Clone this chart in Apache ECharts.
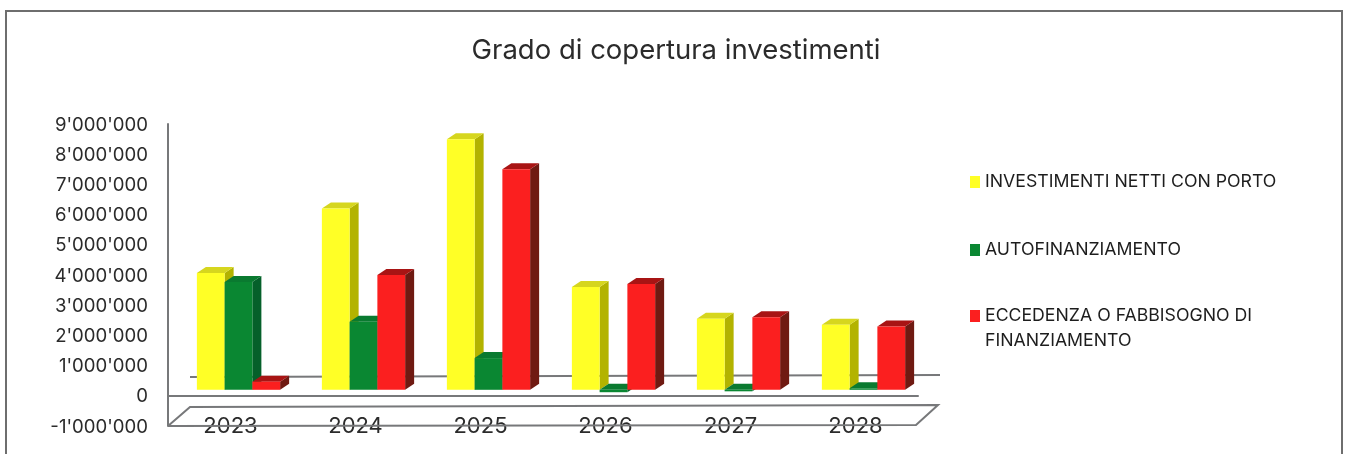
<!DOCTYPE html>
<html>
<head>
<meta charset="utf-8">
<style>
html, body { margin: 0; padding: 0; background: #fff; }
#chart { width: 1349px; height: 454px; }
</style>
<script src="https://cdn.jsdelivr.net/npm/echarts@6/dist/echarts.min.js"></script>
</head>
<body>
<div id="chart"></div>
<script>
const years = ['2023', '2024', '2025', '2026', '2027', '2028'];
const investimenti = [3870000, 6000000, 8300000, 3400000, 2350000, 2150000];
const autofinanziamento = [3570000, 2250000, 1050000, -80000, -50000, 50000];
const eccedenza = [270000, 3800000, 7300000, 3500000, 2400000, 2100000];

const nameInv = 'INVESTIMENTI NETTI CON PORTO';
const nameAuto = 'AUTOFINANZIAMENTO';
const nameEcc = 'ECCEDENZA O FABBISOGNO DI';

const fontName = 'Inter';
const textColor = '#2b2b2b';
const lineColor = '#77787a';

// front face sits in front of the axis plane, same shift for all the bars
const shiftX = 8;
const shiftY = -6;
const depthX = 9;
const depthY = -6;

const formatTick = (v) => String(v).replace(/\B(?=(\d{3})+(?!\d))/g, "'");

const renderBar = (slot, faces) => (params, api) => {
    const zero = api.coord([api.value(0), 0]);
    const top = api.coord([api.value(0), api.value(1)]);
    const band = api.size([1, 0])[0];
    const w = band * 0.222;
    const x0 = zero[0] + shiftX + (slot - 1.5) * w;
    const x1 = x0 + w;
    const yTop = Math.min(zero[1], top[1]) + shiftY;
    const yBot = Math.max(zero[1], top[1]) + shiftY;
    return {
        type: 'group',
        children: [
            {
                type: 'polygon',
                shape: { points: [[x1, yTop], [x1 + depthX, yTop + depthY], [x1 + depthX, yBot + depthY], [x1, yBot]] },
                style: { fill: faces.side }
            },
            {
                type: 'polygon',
                shape: { points: [[x0, yTop], [x1, yTop], [x1 + depthX, yTop + depthY], [x0 + depthX, yTop + depthY]] },
                style: { fill: faces.top }
            },
            {
                type: 'rect',
                shape: { x: x0, y: yTop, width: w, height: yBot - yTop },
                style: { fill: faces.front }
            }
        ]
    };
};

const barSeries = (name, values, slot, faces) => ({
    name: name,
    type: 'custom',
    clip: false,
    renderItem: renderBar(slot, faces),
    encode: { x: 0, y: 1 },
    itemStyle: { color: faces.front },
    data: values.map((v, i) => [i, v])
});

const legendItem = (name, top) => ({
    data: [name],
    left: 965,
    top: top,
    icon: 'rect',
    itemWidth: 10,
    itemHeight: 12,
    selectedMode: false,
    textStyle: { fontFamily: fontName, fontSize: 17.7, color: '#1d1d1d' }
});

const chart = echarts.init(document.getElementById('chart'));
chart.setOption({
    animation: false,
    backgroundColor: '#ffffff',
    title: {
        text: 'Grado di copertura investimenti',
        left: 671,
        top: 32,
        textAlign: 'center',
        textStyle: { fontFamily: fontName, fontSize: 27.5, fontWeight: 'normal', color: '#2b2b2b' }
    },
    legend: [legendItem(nameInv, 168), legendItem(nameAuto, 236), legendItem(nameEcc, 302)],
    grid: { left: 168, width: 750, top: 124, bottom: 28, outerBoundsMode: 'none' },
    xAxis: {
        type: 'category',
        data: years,
        axisTick: { show: false },
        axisLine: { lineStyle: { color: lineColor, width: 2 } },
        axisLabel: { margin: -11, fontFamily: fontName, fontSize: 22, color: textColor }
    },
    yAxis: {
        type: 'value',
        min: -1000000,
        max: 9000000,
        interval: 1000000,
        splitLine: { show: false },
        axisTick: { show: false },
        axisLine: { show: true, lineStyle: { color: lineColor, width: 2 } },
        axisLabel: { margin: 20, verticalAlign: 'top', padding: [-8.5, 0, 0, 0], fontFamily: fontName, fontSize: 18.6, color: textColor, formatter: formatTick }
    },
    graphic: [
        // page frame, runs off the bottom of the picture
        { type: 'rect', z: 0, shape: { x: 6, y: 11, width: 1336, height: 470 }, style: { fill: 'none', stroke: '#6e6e6e', lineWidth: 2 } },
        // floor of the 3d box and back wall base
        { type: 'polyline', z: 1, shape: { points: [[168, 426], [190, 407], [938, 405], [916, 425], [168, 426]] }, style: { fill: 'none', stroke: lineColor, lineWidth: 2 } },
        { type: 'line', z: 1, shape: { x1: 190, y1: 377, x2: 940, y2: 375 }, style: { stroke: lineColor, lineWidth: 2 } },
        // second line of the legend label
        { type: 'text', left: 985, top: 332, style: { text: 'FINANZIAMENTO', fontFamily: fontName, fontSize: 17.7, fill: '#1d1d1d' } }
    ],
    series: [
        barSeries(nameInv, investimenti, 0, { front: '#ffff26', side: '#b3b300', top: '#d6d61e' }),
        barSeries(nameAuto, autofinanziamento, 1, { front: '#0a8732', side: '#05602a', top: '#0a7a30' }),
        barSeries(nameEcc, eccedenza, 2, { front: '#fb1f1f', side: '#6f1a12', top: '#a81414' })
    ]
});
</script>
</body>
</html>
